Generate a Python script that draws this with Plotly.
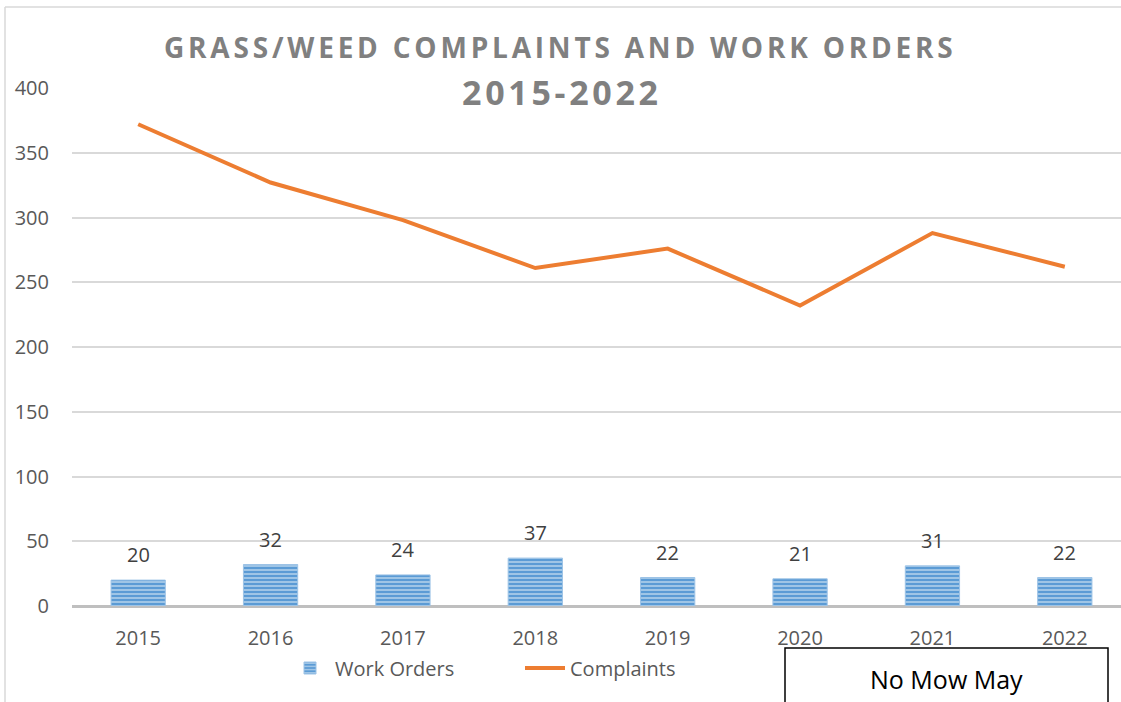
import plotly.graph_objects as go

years = ["2015", "2016", "2017", "2018", "2019", "2020", "2021", "2022"]
work_orders = [20, 32, 24, 37, 22, 21, 31, 22]
complaints = [372, 327, 298, 261, 276, 232, 288, 262]
y_ticks = [0, 50, 100, 150, 200, 250, 300, 350, 400]

W, H = 1121, 702
ML, MR, MT, MB = 72, 0, 88, 96
PW = W - ML - MR
PH = H - MT - MB

def px_x(x):
    return (x - ML) / PW

def px_y(y):
    return (H - MB - y) / PH

fig = go.Figure()
fig.add_trace(go.Bar(
    x=years, y=work_orders, name="Work Orders",
    width=0.41,
    marker=dict(color="#5B9BD5",
                line=dict(color="#9DC3E6", width=1),
                pattern=dict(shape="-", fgcolor="#BDD7EE", bgcolor="#5B9BD5",
                             size=4, solidity=0.35, fillmode="replace")),
))
fig.add_trace(go.Scatter(
    x=years, y=complaints, name="Complaints", mode="lines",
    line=dict(color="#ED7D31", width=4),
))

# data labels above bars
for i, v in enumerate(work_orders):
    fig.add_annotation(
        x=i, y=v, xref="x", yref="y", text=str(v), showarrow=False,
        xanchor="center", yanchor="bottom", yshift=10,
        font=dict(family="Open Sans", size=20, color="#404040"),
    )

fig.add_annotation(
    text='<span style="letter-spacing:3.8px">GRASS/WEED COMPLAINTS AND WORK ORDERS</span>',
    xref="paper", yref="paper", x=px_x(560), y=px_y(47),
    showarrow=False, xanchor="center", yanchor="middle",
    font=dict(family="Open Sans", size=28, color="#808080", weight="bold"),
)
fig.add_annotation(
    text='<span style="letter-spacing:3.7px">2015-2022</span>',
    xref="paper", yref="paper", x=px_x(562), y=px_y(92),
    showarrow=False, xanchor="center", yanchor="middle",
    font=dict(family="Open Sans", size=34, color="#808080", weight="bold"),
)

# outer chart border (cropped chart area)
fig.add_shape(type="line", xref="paper", yref="paper",
              x0=px_x(5), x1=px_x(5), y0=px_y(710), y1=px_y(7),
              line=dict(color="#D9D9D9", width=1.5), layer="below")
fig.add_shape(type="line", xref="paper", yref="paper",
              x0=px_x(5), x1=px_x(1130), y0=px_y(7), y1=px_y(7),
              line=dict(color="#D9D9D9", width=1.5), layer="below")

# "No Mow May" box
fig.add_shape(type="rect", xref="paper", yref="paper",
              x0=px_x(785), x1=px_x(1108), y0=px_y(712), y1=px_y(648),
              line=dict(color="#000000", width=1.5), fillcolor="white")
fig.add_annotation(
    text="No Mow May", xref="paper", yref="paper",
    x=px_x(946), y=px_y(679), showarrow=False,
    xanchor="center", yanchor="middle",
    font=dict(family="Open Sans", size=25, color="#000000"),
)

fig.update_layout(
    width=W, height=H,
    margin=dict(l=ML, r=MR, t=MT, b=MB, pad=0),
    paper_bgcolor="white", plot_bgcolor="white",
    showlegend=True,
    legend=dict(orientation="h", x=px_x(285), xanchor="left",
                y=px_y(668), yanchor="middle",
                bgcolor="rgba(0,0,0,0)",
                font=dict(family="Open Sans", size=20, color="#595959"),
                entrywidth=180, entrywidthmode="pixels",
                itemwidth=40, tracegroupgap=0),
    font=dict(family="Open Sans", color="#595959"),
)
fig.update_xaxes(
    type="category", range=[-0.5, 7.5 - 10 / 132.4],
    showgrid=False, showline=False, ticks="",
    tickfont=dict(family="Open Sans", size=20, color="#595959"),
    ticklabelstandoff=18,
)
fig.update_yaxes(
    range=[0, 400], tickvals=y_ticks,
    showgrid=True, gridcolor="#D9D9D9", gridwidth=1.5,
    zeroline=True, zerolinecolor="#BFBFBF", zerolinewidth=3,
    showline=False, ticks="",
    tickfont=dict(family="Open Sans", size=20, color="#595959"),
    ticklabelstandoff=22,
)

fig.write_html("out.html", config={"displayModeBar": False},
               post_script="document.body.style.margin='0';")
